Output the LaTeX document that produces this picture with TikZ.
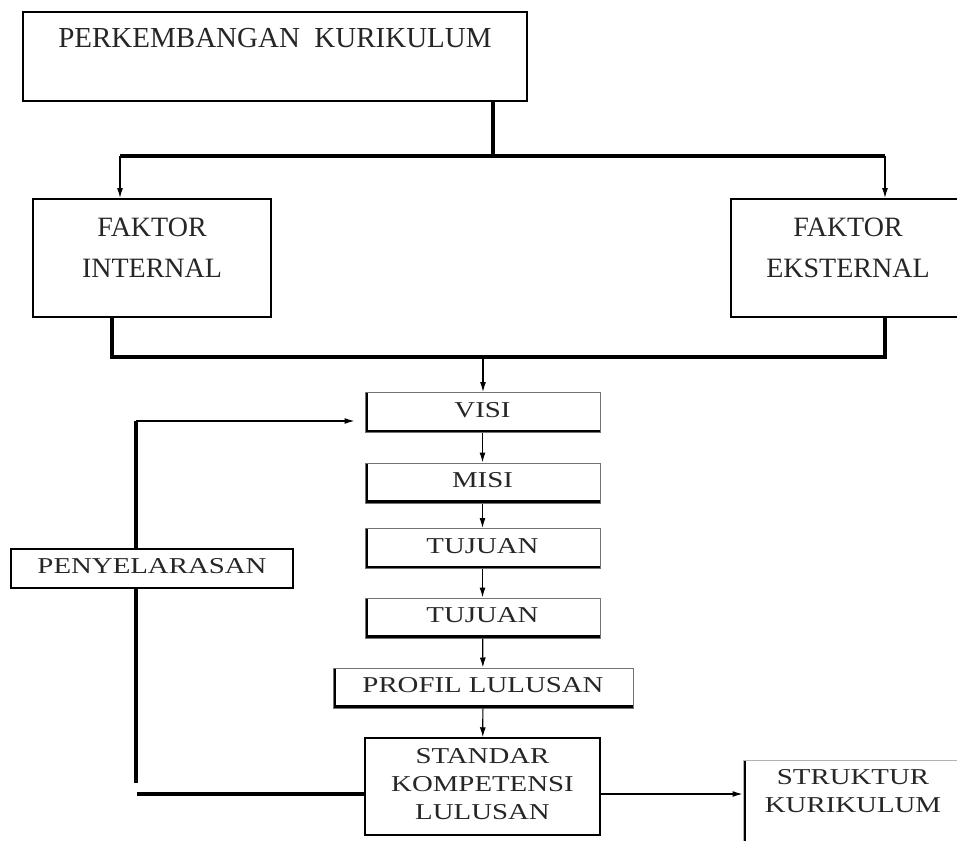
\documentclass[tikz,border=0pt]{standalone}
\usepackage{fontspec}
\setmainfont{Liberation Serif}
\newfontfamily\widefont[FakeStretch=1.27]{Liberation Serif}
\usetikzlibrary{arrows.meta}

\tikzset{
  trunk/.style={draw, line width=4pt},
  arr/.style={draw, line width=1.2pt, -{Latex[length=10pt,width=6pt]}},
  frame/.style={draw, line width=2pt, inner sep=0pt, text=black!85},
  chainbox/.style={draw=black!55, line width=1pt, inner sep=0pt, text=black!85,
    minimum width=235pt, minimum height=40pt, text height=15pt, text depth=6pt,
    font=\widefont\fontsize{22.7}{28}\selectfont,
    path picture={\draw[black, line width=6pt] (path picture bounding box.north west)
      -- (path picture bounding box.south west) -- (path picture bounding box.south east);}},
  factor/.style={frame, align=center, text height=78pt, text depth=40pt,
    font=\fontsize{28}{41}\selectfont},
}

\begin{document}
\begin{tikzpicture}[x=1pt, y=-1pt]
  \useasboundingbox (0,0) rectangle (957,840);

  % top and the two factors
  \node[frame, line width=2.5pt, minimum width=504pt, text height=36pt, text depth=53pt,
    font=\fontsize{29}{34}\selectfont] (perk) at (275,56.5) {PERKEMBANGAN\ \ KURIKULUM};
  \node[factor, minimum width=238pt] (int) at (152,258) {FAKTOR\\INTERNAL};
  \node[factor, minimum width=234pt] (ext) at (848,258) {FAKTOR\\EKSTERNAL};

  % chain
  \foreach \pos/\name/\txt in {{(482.5,412.5)/visi/VISI}, {(482.5,483)/misi/MISI},
      {(482.5,548.5)/tuj1/TUJUAN}, {(482.5,618)/tuj2/TUJUAN}} {
    \node[chainbox] (\name) at \pos {\txt};
  }
  \node[chainbox, minimum width=300pt] (prof) at (483,688) {PROFIL LULUSAN};
  \node[frame, line width=1.5pt, minimum width=235pt, text height=81pt, text depth=16pt,
    align=center, font=\widefont\fontsize{22.7}{28}\selectfont] (std) at (482.5,786.5)
    {STANDAR\\KOMPETENSI\\LULUSAN};
  \node[frame, line width=1.5pt, minimum width=282pt, minimum height=39pt, text height=15pt,
    text depth=6pt, font=\widefont\fontsize{22.7}{28}\selectfont] (sel) at (152,568.5)
    {PENYELARASAN};
  \node[chainbox, draw=black!30, minimum width=220pt, text height=52pt, text depth=38pt,
    align=center] (struk) at (853,805) {STRUKTUR\\KURIKULUM};

  % junctions
  \coordinate (split) at (493,156);
  \coordinate (lft) at (120,156);
  \coordinate (rgt) at (885,156);
  \coordinate (jl) at (112,357);
  \coordinate (jr) at (885,357);
  \coordinate (jm) at (483,357);
  \coordinate (fbtop) at (136,421);
  \coordinate (fbend) at (136,783);
  \coordinate (fbfoot) at (137,794);

  \draw[trunk] (perk.south -| split) -- (split);
  \draw[trunk] (lft) -- (rgt);
  \draw[arr] (lft) -- (lft |- int.north);
  \draw[arr] (rgt) -- (rgt |- ext.north);
  \draw[trunk] (int.south -| jl) -- (jl) -- (jr) -- (ext.south -| jr);
  \draw[arr] (jm) -- (jm |- visi.north);

  \foreach \source/\sink in {visi/misi, misi/tuj1, tuj1/tuj2, tuj2/prof, prof/std} {
    \draw[arr] (\source) -- (\sink);
  }

  % feedback loop
  \draw[trunk] (fbtop) -- (fbtop |- sel.north);
  \draw[trunk] (sel.south -| fbtop) -- (fbend);
  \draw[trunk] (fbfoot) -- (fbfoot -| std.west);
  \draw[arr, shorten >=10pt] (fbtop) -- (fbtop -| visi.west);
  \draw[arr] (std.east |- fbfoot) -- (struk.west |- fbfoot);
\end{tikzpicture}
\end{document}
